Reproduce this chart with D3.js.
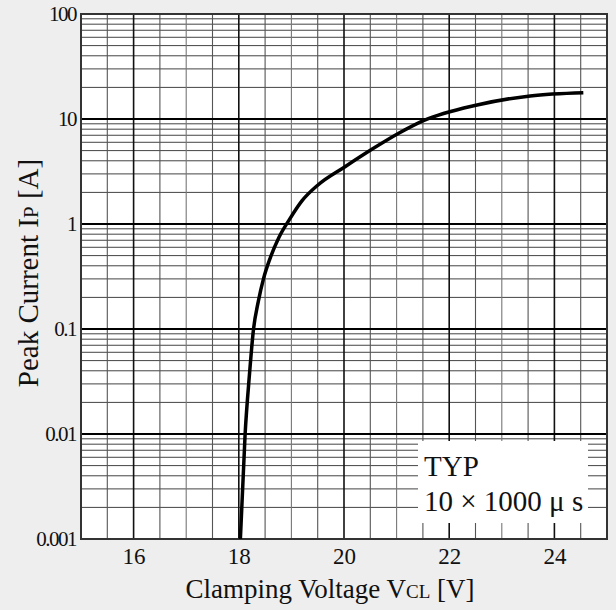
<!DOCTYPE html>
<html>
<head>
<meta charset="utf-8">
<script src="https://cdn.jsdelivr.net/npm/d3@7"></script>
<style>
  html, body { margin: 0; padding: 0; background: #eeeeee; }
  svg { display: block; }
  text { font-family: "Liberation Serif", "DejaVu Serif", serif; fill: #111; }
</style>
</head>
<body>
<svg id="chart" width="616" height="610"></svg>
<script>
// ---- data ----
const voltage = [18.03, 18.12, 18.20, 18.28, 18.37, 18.47, 18.60, 18.76, 18.97, 19.20, 19.50, 20.02, 20.53, 21.04, 21.51, 22.53, 23.54, 24.55];
const current = [0.001, 0.01, 0.0355, 0.1, 0.182, 0.302, 0.479, 0.741, 1.12, 1.66, 2.34, 3.51, 5.14, 7.31, 9.64, 13.6, 16.6, 17.8];
const xTicks = [16, 18, 20, 22, 24];
const yTicks = [0.001, 0.01, 0.1, 1, 10, 100];
const yTickLabels = ["0.001", "0.01", "0.1", "1", "10", "100"];
const legendLines = ["TYP", "10 \u00D7 1000 \u03BC s"];

// ---- layout ----
const svg = d3.select("#chart");
const L = 81, R = 607, T = 14, B = 539;
const x = d3.scaleLinear().domain([15, 25]).range([L, R]);
const y = d3.scaleLog().domain([0.001, 100]).range([B, T]);

svg.append("rect").attr("x", L).attr("y", T).attr("width", R - L).attr("height", B - T).attr("fill", "#fff");

const grid = svg.append("g");
// horizontal minor lines
const minorY = [];
for (let d = -3; d <= 1; d++) for (let k = 2; k <= 9; k++) minorY.push(k * Math.pow(10, d));
grid.selectAll("line.hmin").data(minorY).enter().append("line")
  .attr("x1", L).attr("x2", R).attr("y1", d => y(d)).attr("y2", d => y(d))
  .attr("stroke", "#444").attr("stroke-width", 1);
// vertical lines
const vx = d3.range(15.5, 25, 0.5);
grid.selectAll("line.v").data(vx).enter().append("line")
  .attr("y1", T).attr("y2", B).attr("x1", d => x(d)).attr("x2", d => x(d))
  .attr("stroke", d => (d % 2 === 0) ? "#111" : (d % 1 === 0 ? "#777" : "#555"))
  .attr("stroke-width", d => (d % 2 === 0) ? 1.6 : 1.1);
// decade lines
grid.selectAll("line.hmaj").data([0.01, 0.1, 1, 10]).enter().append("line")
  .attr("x1", L).attr("x2", R).attr("y1", d => y(d)).attr("y2", d => y(d))
  .attr("stroke", "#000").attr("stroke-width", 2);

// legend box (white patch over grid)
svg.append("rect").attr("x", 418).attr("y", 441).attr("width", 170).attr("height", 82).attr("fill", "#fff");

// border
svg.append("rect").attr("x", L).attr("y", T).attr("width", R - L).attr("height", B - T)
  .attr("fill", "none").attr("stroke", "#333").attr("stroke-width", 2);

// curve
const line = d3.line().x(d => x(d[0])).y(d => y(d[1])).curve(d3.curveMonotoneX);
svg.append("path").datum(voltage.map((v, i) => [v, current[i]]))
  .attr("d", line).attr("fill", "none").attr("stroke", "#000").attr("stroke-width", 3.5)
  .attr("stroke-linejoin", "round").attr("stroke-linecap", "butt");

// axes (labels only)
const yAxis = d3.axisLeft(y).tickValues(yTicks).tickFormat((d, i) => yTickLabels[i]).tickSize(0).tickPadding(5);
const gy = svg.append("g").attr("transform", `translate(${L},0)`).call(yAxis);
gy.select(".domain").remove();
gy.selectAll("text").style("font-family", "'Liberation Serif', serif").style("font-size", "21px")
  .style("letter-spacing", "-1.5px").attr("fill", "#111");

const xAxis = d3.axisBottom(x).tickValues(xTicks).tickFormat(d3.format("d")).tickSize(0).tickPadding(9);
const gx = svg.append("g").attr("transform", `translate(0,${B})`).call(xAxis);
gx.select(".domain").remove();
gx.selectAll("text").style("font-family", "'Liberation Serif', serif").style("font-size", "23px").attr("fill", "#111");

// axis titles
const xt = svg.append("text").attr("x", 330).attr("y", 598).attr("text-anchor", "middle").style("font-size", "27px");
xt.append("tspan").text("Clamping Voltage V");
xt.append("tspan").text("CL").style("font-size", "19px");
xt.append("tspan").text(" [V]");

const yt = svg.append("text").attr("transform", "translate(38,273) rotate(-90)").attr("text-anchor", "middle").style("font-size", "29px");
yt.append("tspan").text("Peak Current I");
yt.append("tspan").text("P").style("font-size", "21px");
yt.append("tspan").text(" [A]");

// legend text
svg.selectAll("text.leg").data(legendLines).enter().append("text")
  .attr("x", 424).attr("y", (d, i) => 476 + i * 35)
  .style("font-size", "29px").text(d => d);
</script>
</body>
</html>
